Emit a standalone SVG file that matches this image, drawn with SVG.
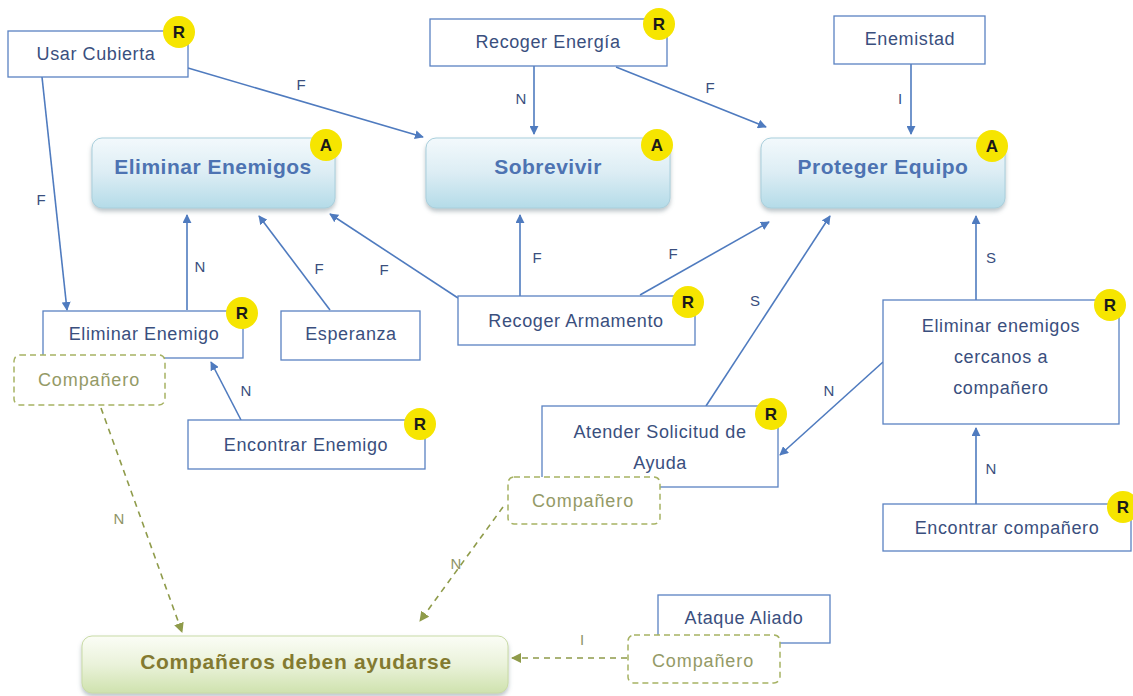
<svg xmlns="http://www.w3.org/2000/svg" width="1133" height="696" viewBox="0 0 1133 696">
  <defs>
    <linearGradient id="goalBlue" x1="0" y1="0" x2="0" y2="1">
      <stop offset="0" stop-color="#f3f9fc"/>
      <stop offset="0.5" stop-color="#dcedf4"/>
      <stop offset="1" stop-color="#b4dbe8"/>
    </linearGradient>
    <linearGradient id="goalGreen" x1="0" y1="0" x2="0" y2="1">
      <stop offset="0" stop-color="#fbfdf6"/>
      <stop offset="0.5" stop-color="#eaf2da"/>
      <stop offset="1" stop-color="#cfe2ae"/>
    </linearGradient>
    <filter id="shadow" x="-10%" y="-20%" width="120%" height="150%">
      <feDropShadow dx="0" dy="3" stdDeviation="2" flood-color="#6a7f88" flood-opacity="0.45"/>
    </filter>
    <marker id="arrBlue" viewBox="0 0 10 10" refX="9" refY="5" markerWidth="9" markerHeight="9" markerUnits="userSpaceOnUse" orient="auto">
      <path d="M0,0 L10,5 L0,10 z" fill="#4f7bbf"/>
    </marker>
    <marker id="arrGreen" viewBox="0 0 10 10" refX="9" refY="5" markerWidth="10" markerHeight="10" markerUnits="userSpaceOnUse" orient="auto">
      <path d="M0,0 L10,5 L0,10 z" fill="#8f9b4a"/>
    </marker>
  </defs>
  <style>
    .task { fill: #ffffff; stroke: #5a82c2; stroke-width: 1.3; }
    .task-text { font-family: "Liberation Sans", Arial, sans-serif; font-size: 18px; letter-spacing: 0.6px; fill: #3a4f7e; text-anchor: middle; }
    .goal { fill: url(#goalBlue); stroke: #a9cfdc; stroke-width: 1; filter: url(#shadow); }
    .goal-text { font-family: "Liberation Sans", Arial, sans-serif; font-size: 21px; letter-spacing: 0.5px; font-weight: bold; fill: #4d73b2; text-anchor: middle; }
    .goal-green { fill: url(#goalGreen); stroke: #c9dba6; stroke-width: 1; filter: url(#shadow); }
    .goal-green-text { font-family: "Liberation Sans", Arial, sans-serif; font-size: 21px; letter-spacing: 0.7px; font-weight: bold; fill: #837a30; text-anchor: middle; }
    .role { fill: #ffffff; stroke: #a6b263; stroke-width: 1.5; stroke-dasharray: 6 4; }
    .role-text { font-family: "Liberation Sans", Arial, sans-serif; font-size: 18px; letter-spacing: 0.9px; fill: #949a66; text-anchor: middle; }
    .badge { fill: #f6e500; }
    .badge-text { font-family: "Liberation Sans", Arial, sans-serif; font-size: 17px; font-weight: bold; fill: #1a1a1a; text-anchor: middle; }
    .link { fill: none; stroke: #4f7bbf; stroke-width: 1.6; marker-end: url(#arrBlue); }
    .link-dash { fill: none; stroke: #8f9b4a; stroke-width: 1.6; stroke-dasharray: 6 5; marker-end: url(#arrGreen); }
    .edge-label { font-family: "Liberation Sans", Arial, sans-serif; font-size: 15px; fill: #3a4f7e; text-anchor: middle; }
    .edge-label-green { font-family: "Liberation Sans", Arial, sans-serif; font-size: 15px; fill: #8f9467; text-anchor: middle; }
  </style>

  <rect width="1133" height="696" fill="#ffffff"/>

  <!-- connectors -->
  <g id="connectors">
    <path class="link" d="M188,68 L423,137"/>
    <path class="link" d="M42,77 L67,310"/>
    <path class="link" d="M534,66 L534,134"/>
    <path class="link" d="M616,67 L766,127"/>
    <path class="link" d="M911,64 L911,134"/>
    <path class="link" d="M187,310 L187,215"/>
    <path class="link" d="M330,310 L259,216"/>
    <path class="link" d="M458,298 L330,214"/>
    <path class="link" d="M520,296 L520,215"/>
    <path class="link" d="M640,295 L769,222"/>
    <path class="link" d="M706,406 L830,216"/>
    <path class="link" d="M976,300 L976,216"/>
    <path class="link" d="M883,362 L780,455"/>
    <path class="link" d="M976,504 L976,428"/>
    <path class="link" d="M241,420 L211,362"/>
    <path class="link-dash" d="M101,408 L182,632"/>
    <path class="link-dash" d="M503,507 L420,621"/>
    <path class="link-dash" d="M627,658 L512,658"/>

    <text class="edge-label" x="301" y="90">F</text>
    <text class="edge-label" x="41" y="205">F</text>
    <text class="edge-label" x="521" y="104">N</text>
    <text class="edge-label" x="710" y="93">F</text>
    <text class="edge-label" x="900" y="104">I</text>
    <text class="edge-label" x="200" y="272">N</text>
    <text class="edge-label" x="319" y="274">F</text>
    <text class="edge-label" x="384" y="275">F</text>
    <text class="edge-label" x="537" y="263">F</text>
    <text class="edge-label" x="673" y="259">F</text>
    <text class="edge-label" x="755" y="306">S</text>
    <text class="edge-label" x="991" y="263">S</text>
    <text class="edge-label" x="829" y="396">N</text>
    <text class="edge-label" x="991" y="474">N</text>
    <text class="edge-label" x="246" y="396">N</text>
    <text class="edge-label-green" x="119" y="524">N</text>
    <text class="edge-label-green" x="456" y="569">N</text>
    <text class="edge-label-green" x="582" y="645">I</text>
  </g>

  <!-- goals -->
  <g id="goal-eliminar-enemigos">
    <rect class="goal" x="92" y="138" width="243" height="70" rx="10"/>
    <text class="goal-text" x="213" y="174">Eliminar Enemigos</text>
    <circle class="badge" cx="326" cy="145" r="16"/>
    <text class="badge-text" x="326" y="151">A</text>
  </g>
  <g id="goal-sobrevivir">
    <rect class="goal" x="426" y="138" width="244" height="70" rx="10"/>
    <text class="goal-text" x="548" y="174">Sobrevivir</text>
    <circle class="badge" cx="657" cy="145" r="16"/>
    <text class="badge-text" x="657" y="151">A</text>
  </g>
  <g id="goal-proteger-equipo">
    <rect class="goal" x="761" y="138" width="244" height="70" rx="10"/>
    <text class="goal-text" x="883" y="174">Proteger Equipo</text>
    <circle class="badge" cx="992" cy="146" r="16"/>
    <text class="badge-text" x="992" y="152">A</text>
  </g>
  <g id="goal-companeros">
    <rect class="goal-green" x="82" y="636" width="426" height="57" rx="10"/>
    <text class="goal-green-text" x="296" y="669">Compañeros deben ayudarse</text>
  </g>

  <!-- tasks and resources -->
  <g id="usar-cubierta">
    <rect class="task" x="8" y="31" width="180" height="46"/>
    <text class="task-text" x="96" y="60">Usar Cubierta</text>
    <circle class="badge" cx="179" cy="32" r="16"/>
    <text class="badge-text" x="179" y="38">R</text>
  </g>
  <g id="recoger-energia">
    <rect class="task" x="430" y="19" width="237" height="47"/>
    <text class="task-text" x="548" y="48">Recoger Energía</text>
    <circle class="badge" cx="659" cy="24" r="16"/>
    <text class="badge-text" x="659" y="30">R</text>
  </g>
  <g id="enemistad">
    <rect class="task" x="834" y="16" width="151" height="48"/>
    <text class="task-text" x="910" y="45">Enemistad</text>
  </g>
  <g id="eliminar-enemigo">
    <rect class="task" x="43" y="311" width="200" height="47"/>
    <text class="task-text" x="144" y="340">Eliminar Enemigo</text>
    <circle class="badge" cx="242" cy="313" r="16"/>
    <text class="badge-text" x="242" y="319">R</text>
  </g>
  <g id="esperanza">
    <rect class="task" x="281" y="311" width="139" height="49"/>
    <text class="task-text" x="351" y="340">Esperanza</text>
  </g>
  <g id="recoger-armamento">
    <rect class="task" x="458" y="296" width="237" height="49"/>
    <text class="task-text" x="576" y="327">Recoger Armamento</text>
    <circle class="badge" cx="688" cy="302" r="16"/>
    <text class="badge-text" x="688" y="308">R</text>
  </g>
  <g id="eliminar-enemigos-cercanos">
    <rect class="task" x="883" y="300" width="236" height="124"/>
    <text class="task-text" x="1001" y="332">Eliminar enemigos</text>
    <text class="task-text" x="1001" y="363">cercanos a</text>
    <text class="task-text" x="1001" y="394">compañero</text>
    <circle class="badge" cx="1110" cy="305" r="16"/>
    <text class="badge-text" x="1110" y="311">R</text>
  </g>
  <g id="atender-solicitud">
    <rect class="task" x="542" y="406" width="236" height="81"/>
    <text class="task-text" x="660" y="438">Atender Solicitud de</text>
    <text class="task-text" x="660" y="469">Ayuda</text>
    <circle class="badge" cx="771" cy="414" r="16"/>
    <text class="badge-text" x="771" y="420">R</text>
  </g>
  <g id="encontrar-enemigo">
    <rect class="task" x="188" y="420" width="237" height="49"/>
    <text class="task-text" x="306" y="451">Encontrar Enemigo</text>
    <circle class="badge" cx="420" cy="424" r="16"/>
    <text class="badge-text" x="420" y="430">R</text>
  </g>
  <g id="encontrar-companero">
    <rect class="task" x="883" y="504" width="248" height="47"/>
    <text class="task-text" x="1007" y="534">Encontrar compañero</text>
    <circle class="badge" cx="1123" cy="507" r="16"/>
    <text class="badge-text" x="1123" y="513">R</text>
  </g>
  <g id="ataque-aliado">
    <rect class="task" x="658" y="595" width="172" height="48"/>
    <text class="task-text" x="744" y="624">Ataque Aliado</text>
  </g>

  <!-- roles -->
  <g id="rol-companero-1">
    <rect class="role" x="14" y="355" width="151" height="50" rx="6"/>
    <text class="role-text" x="89" y="386">Compañero</text>
  </g>
  <g id="rol-companero-2">
    <rect class="role" x="508" y="477" width="152" height="47" rx="6"/>
    <text class="role-text" x="583" y="507">Compañero</text>
  </g>
  <g id="rol-companero-3">
    <rect class="role" x="628" y="635" width="152" height="48" rx="6"/>
    <text class="role-text" x="703" y="667">Compañero</text>
  </g>
</svg>
